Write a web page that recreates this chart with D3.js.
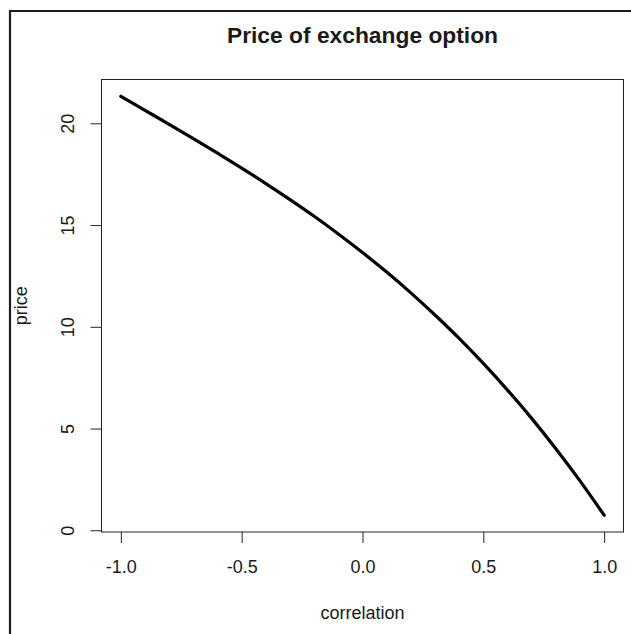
<!DOCTYPE html>
<html>
<head>
<meta charset="utf-8">
<script src="https://cdn.jsdelivr.net/npm/d3@7"></script>
<style>
  html, body { margin: 0; padding: 0; background: #fff; }
  svg { display: block; }
  text { font-family: "Liberation Sans", Arial, sans-serif; fill: #1a1a1a; }
</style>
</head>
<body>
<svg id="chart" width="631" height="634"></svg>
<script>
// ---- data ----
const correlation = [-1.0, -0.9, -0.8, -0.7, -0.6, -0.5, -0.4, -0.3, -0.2, -0.1,
                      0.0, 0.1, 0.2, 0.3, 0.4, 0.5, 0.6, 0.7, 0.8, 0.9, 1.0];
const price = [21.33, 20.64, 19.95, 19.25, 18.53, 17.80, 17.04, 16.25, 15.43, 14.56,
               13.65, 12.69, 11.67, 10.58, 9.43, 8.20, 6.89, 5.50, 4.01, 2.43, 0.74];
const xTicks = [-1.0, -0.5, 0.0, 0.5, 1.0];
const yTicks = [0, 5, 10, 15, 20];
const titleText = "Price of exchange option";
const xLabel = "correlation";
const yLabel = "price";

const svg = d3.select("#chart");
const W = 631, H = 634;
const plot = { left: 101.5, right: 623.5, top: 79.5, bottom: 532 };

// R-style 4% axis expansion
function expand(ext) {
  const r = ext[1] - ext[0];
  return [ext[0] - 0.04 * r, ext[1] + 0.04 * r];
}
const x = d3.scaleLinear().domain(expand(d3.extent(correlation))).range([plot.left, plot.right]);
const y = d3.scaleLinear().domain(expand(d3.extent(price))).range([plot.bottom, plot.top]);

// outer frame (left and top edges)
svg.append("path")
  .attr("d", `M10,${H} L10,11 L${W},11`)
  .attr("fill", "none").attr("stroke", "#1e1e1e").attr("stroke-width", 2.2);

// plot box
svg.append("rect")
  .attr("x", plot.left).attr("y", plot.top)
  .attr("width", plot.right - plot.left).attr("height", plot.bottom - plot.top)
  .attr("fill", "none").attr("stroke", "#222").attr("stroke-width", 1);

// x axis
const xAxis = d3.axisBottom(x).tickValues(xTicks).tickSize(11).tickPadding(16)
  .tickFormat(d3.format(".1f"));
const gx = svg.append("g").attr("transform", `translate(0,${plot.bottom})`).call(xAxis);
gx.select(".domain").remove();
gx.selectAll(".tick line").attr("stroke", "#222");
gx.selectAll(".tick text").attr("font-size", 18).attr("dy", null)
  .attr("y", 41).attr("fill", "#1a1a1a")
  .text(d => d3.format(".1f")(d).replace("\u2212", "-"));

// y axis
const yAxis = d3.axisLeft(y).tickValues(yTicks).tickSize(11);
const gy = svg.append("g").attr("transform", `translate(${plot.left},0)`).call(yAxis);
gy.select(".domain").remove();
gy.selectAll(".tick line").attr("stroke", "#222");
gy.selectAll(".tick text")
  .attr("font-size", 18).attr("fill", "#1a1a1a")
  .attr("x", null).attr("dy", null)
  .attr("text-anchor", "middle")
  .attr("transform", "translate(-27.5,0) rotate(-90)");

// the curve
const line = d3.line().x((d, i) => x(correlation[i])).y(d => y(d)).curve(d3.curveMonotoneX);
svg.append("path")
  .datum(price)
  .attr("d", line)
  .attr("fill", "none").attr("stroke", "#000").attr("stroke-width", 3.2)
  .attr("stroke-linecap", "round").attr("stroke-linejoin", "round");

// title and axis labels
const cx = (plot.left + plot.right) / 2;
svg.append("text").attr("x", cx).attr("y", 42.5).attr("text-anchor", "middle")
  .attr("font-size", 22.8).attr("font-weight", "bold").attr("fill", "#000").text(titleText);
svg.append("text").attr("x", cx).attr("y", 618.5).attr("text-anchor", "middle")
  .attr("font-size", 18).text(xLabel);
svg.append("text")
  .attr("transform", `translate(27,${(plot.top + plot.bottom) / 2}) rotate(-90)`)
  .attr("text-anchor", "middle").attr("font-size", 18).text(yLabel);
</script>
</body>
</html>
